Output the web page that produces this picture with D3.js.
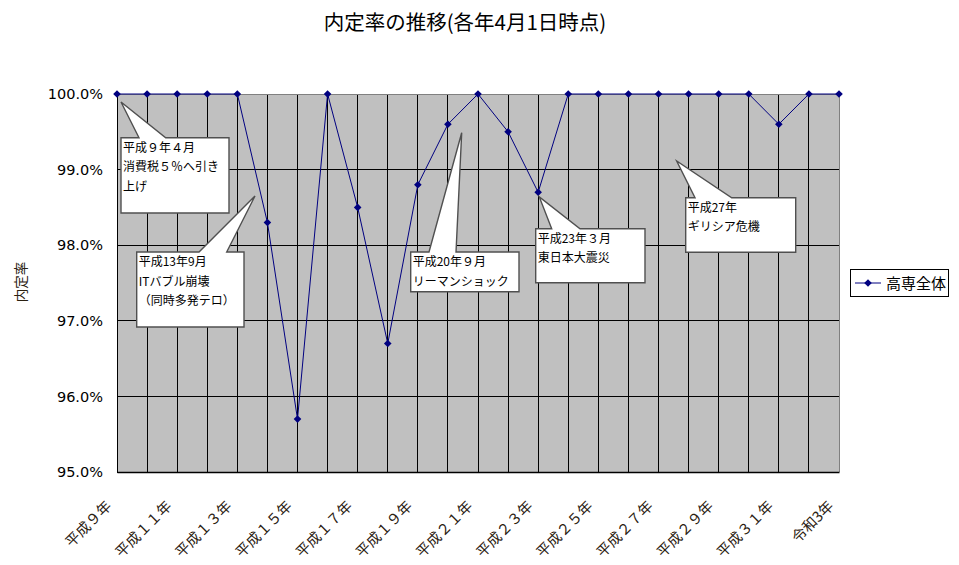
<!DOCTYPE html>
<html><head><meta charset="utf-8">
<script src="https://cdn.jsdelivr.net/npm/d3@7"></script>
<style>
html,body{margin:0;padding:0;background:#fff;}
svg{display:block;}
</style>
</head><body>
<svg id="chart" width="959" height="565"></svg>
<script>
// ---- data ----
const categories = ["平成９年","平成１０年","平成１１年","平成１２年","平成１３年","平成１４年","平成１５年","平成１６年","平成１７年","平成１８年","平成１９年","平成２０年","平成２１年","平成２２年","平成２３年","平成２４年","平成２５年","平成２６年","平成２７年","平成２８年","平成２９年","平成３０年","平成３１年","令和２年","令和３年"];
const values = [100.0,100.0,100.0,100.0,100.0,98.3,95.7,100.0,98.5,96.7,98.8,99.6,100.0,99.5,98.7,100.0,100.0,100.0,100.0,100.0,100.0,100.0,99.6,100.0,100.0];
const seriesName = "高専全体";
const yTicks = [95,96,97,98,99,100];
const xTickLabels = ["平成９年","平成１１年","平成１３年","平成１５年","平成１７年","平成１９年","平成２１年","平成２３年","平成２５年","平成２７年","平成２９年","平成３１年","令和3年"];
const titleText = "内定率の推移(各年4月1日時点)";
const yTitle = "内定率";
// callout annotations, in data units (category index, value)
const calloutLines = [
  ["平成９年４月","消費税５％へ引き","上げ"],
  ["平成13年9月","ITバブル崩壊","（同時多発テロ）"],
  ["平成20年９月","リーマンショック"],
  ["平成23年３月","東日本大震災"],
  ["平成27年","ギリシア危機"]
];
const calloutBox = [ // [i0, i1, vTop, vBottom]
  [0.133,3.723,99.422,98.426],
  [0.655,4.222,97.910,96.918],
  [9.763,13.363,97.910,97.385],
  [13.918,17.551,98.218,97.504],
  [18.904,22.561,98.628,97.906]
];
const calloutBase = [ // wedge base along top edge [i0,i1]
  [0.731,1.619],[2.726,3.647],[10.371,11.269],[14.450,15.391],[19.214,20.434]
];
const calloutTip = [ // [i, v]
  [0.133,99.894],[4.587,98.651],[11.458,99.488],[14.038,98.638],[18.605,99.114]
];

// ---- layout ----
const svg = d3.select("#chart");
const L = 117, R = 839, T = 94, B = 472;
const x = d3.scalePoint().domain(categories).range([L, R]);
const xi = d3.scaleLinear().domain([0, categories.length - 1]).range([L, R]);
const y = d3.scaleLinear().domain([95, 100]).range([B, T]);
const jp = "'Noto Sans CJK JP','Noto Sans',sans-serif";

// title
svg.append("text").attr("x", 465).attr("y", 30).attr("text-anchor", "middle")
  .attr("font-family", jp).attr("font-size", 20.5).attr("fill", "#000").text(titleText);

// plot background
svg.append("rect").attr("x", L).attr("y", T).attr("width", R - L).attr("height", B - T)
  .attr("fill", "#c0c0c0");

// vertical gridlines
svg.append("g").selectAll("line").data(categories.slice(1, -1)).join("line")
  .attr("x1", d => x(d)).attr("x2", d => x(d)).attr("y1", T).attr("y2", B)
  .attr("stroke", "#000").attr("stroke-width", 1).attr("shape-rendering", "crispEdges");
// horizontal gridlines
svg.append("g").selectAll("line").data(yTicks.filter(t => t > 95 && t < 100)).join("line")
  .attr("x1", L).attr("x2", R).attr("y1", d => y(d)).attr("y2", d => y(d))
  .attr("stroke", "#000").attr("stroke-width", 1).attr("shape-rendering", "crispEdges");
// border (top & right gray)
svg.append("path").attr("d", `M${L},${T}H${R}V${B}`).attr("fill", "none")
  .attr("stroke", "#808080").attr("stroke-width", 1).attr("shape-rendering", "crispEdges");

// y axis
const yAxis = svg.append("g").attr("transform", `translate(${L},0)`)
  .call(d3.axisLeft(y).tickValues(yTicks).tickSize(0).tickPadding(14).tickFormat(d => d.toFixed(1) + "%"));
yAxis.select(".domain").attr("stroke", "#000").attr("shape-rendering", "crispEdges");
yAxis.selectAll("text").attr("font-family", "'DejaVu Sans',sans-serif").attr("font-size", 14.5).attr("fill", "#000");

// x axis
const xAxis = svg.append("g").attr("transform", `translate(0,${B})`)
  .call(d3.axisBottom(x).tickValues(categories.filter((c, i) => i % 2 === 0)).tickSize(0)
    .tickFormat((d, i) => xTickLabels[i]));
xAxis.select(".domain").attr("stroke", "#000").attr("stroke-width", 1.5);
xAxis.selectAll("text").attr("font-family", jp).attr("font-size", 14.5).attr("fill", "#2a2010")
  .attr("x", 0).attr("y", 0).attr("dy", 0).attr("text-anchor", "end")
  .attr("transform", "translate(-5,35) rotate(-45)");

// y axis title
svg.append("text").attr("transform", "translate(26,282) rotate(-90)").attr("text-anchor", "middle")
  .attr("font-family", jp).attr("font-size", 13.5).attr("fill", "#2a2010").text(yTitle);

// series line
const line = d3.line().x((d, i) => x(categories[i])).y(d => y(d));
svg.append("path").datum(values).attr("d", line).attr("fill", "none")
  .attr("stroke", "#000080").attr("stroke-width", 1);
const diamond = "M0,-3.8L3.8,0L0,3.8L-3.8,0Z";
svg.append("g").selectAll("path").data(values).join("path")
  .attr("transform", (d, i) => `translate(${x(categories[i])},${y(d)})`)
  .attr("d", diamond).attr("fill", "#000080");

// callouts
const cg = svg.append("g");
calloutLines.forEach((lines, k) => {
  const [i0, i1, vt, vb] = calloutBox[k];
  const x0 = xi(i0), x1 = xi(i1), y0 = y(vt), y1 = y(vb);
  const bx0 = xi(calloutBase[k][0]), bx1 = xi(calloutBase[k][1]);
  const tx = xi(calloutTip[k][0]), ty = y(calloutTip[k][1]);
  const p = `M${x0},${y0}L${bx0},${y0}L${tx},${ty}L${bx1},${y0}L${x1},${y0}L${x1},${y1}L${x0},${y1}Z`;
  cg.append("path").attr("d", p).attr("fill", "#fff").attr("stroke", "#505050").attr("stroke-width", 1.4);
  const t = cg.append("text").attr("font-family", jp).attr("font-size", 12).attr("fill", "#000");
  lines.forEach((s, j) => {
    t.append("tspan").attr("x", x0 + 2).attr("y", y0 + 14 + j * 19.7).text(s);
  });
});

// legend
const lg = svg.append("g");
lg.append("rect").attr("x", 850.5).attr("y", 269.5).attr("width", 98).attr("height", 27)
  .attr("fill", "#fff").attr("stroke", "#000").attr("stroke-width", 1);
lg.append("line").attr("x1", 855).attr("x2", 881).attr("y1", 283).attr("y2", 283)
  .attr("stroke", "#000080").attr("stroke-width", 1);
lg.append("path").attr("transform", "translate(868,283)").attr("d", diamond).attr("fill", "#000080");
lg.append("text").attr("x", 886).attr("y", 289).attr("font-family", jp).attr("font-size", 15)
  .attr("fill", "#000").text(seriesName);
</script>
</body></html>
